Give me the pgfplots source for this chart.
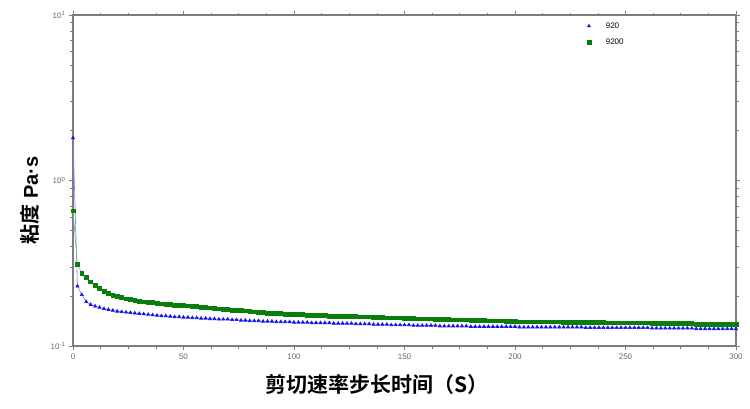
\documentclass[border=0pt]{standalone}
\usepackage{pgfplots}
\pgfplotsset{compat=1.18}
\usepackage{fontspec}
\setmainfont{Liberation Sans}
\newfontfamily\cjk{Noto Sans CJK SC}[BoldFont={Noto Sans CJK SC Bold}]

\definecolor{axgray}{RGB}{125,125,125}
\definecolor{tkgray}{RGB}{105,105,105}
\definecolor{ser1}{RGB}{20,20,235}
\definecolor{ser1l}{RGB}{120,120,255}
\definecolor{ser2}{RGB}{10,125,10}
\definecolor{ser2l}{RGB}{110,190,110}

\begin{document}
\begin{tikzpicture}
  \begin{axis}[
      scale only axis,
      width=663pt, height=331pt,
      ymode=log,
      xmin=0, xmax=300,
      ymin=0.1, ymax=10,
      xtick={0,50,...,300},
      minor x tick num=3,
      ytick={0.1,1,10},
      yticklabels={10\textsuperscript{-1},10\textsuperscript{0},10\textsuperscript{1}},
      tick align=outside,
      major tick length=4pt,
      minor tick length=2.5pt,
      tick style={axgray, line width=0.6pt},
      axis line style={axgray, line width=1.2pt},
      every tick label/.append style={font=\fontsize{8}{9}\selectfont, text=tkgray},
      /pgf/number format/assume math mode=true,
      xlabel={\cjk\bfseries\fontsize{21}{24}\selectfont 剪切速率步长时间（S）},
      xlabel style={at={(axis description cs:0.458,-0.075)}, anchor=north},
      ylabel={\fontsize{20}{24}\selectfont{\cjk\bfseries 粘度} \bfseries Pa·s},
      ylabel style={at={(axis description cs:-0.045,0.44)}, anchor=south},
      legend style={draw=none, fill=none, font=\fontsize{8}{8}\selectfont,
        at={(rel axis cs:0.772,0.99)}, anchor=north west,
        row sep=5pt, inner sep=2pt,
        /tikz/every odd column/.append style={column sep=13pt}},
      legend cell align=left,
    ]
    \addlegendimage{only marks, mark=triangle*, color=ser1, mark size=1.9pt}
    \addlegendentry{920}
    \addlegendimage{only marks, mark=square*, color=ser2, mark size=1.9pt}
    \addlegendentry{9200}

    % 920
    \addplot[forget plot, ser1l, line width=0.6pt, mark=triangle*, mark size=1.8pt,
      mark options={ser1, draw=ser1, fill=ser1}] coordinates {
      (0,1.81)(2,0.230)(4,0.204)(6,0.185)(8,0.178)(10,0.174)(12,0.171)(14,0.168)
      (16,0.166)(18,0.164)(20,0.162)(22,0.161)(24,0.160)(26,0.159)(28,0.158)(30,0.157)
      (32,0.156)(34,0.155)(36,0.154)(38,0.153)(40,0.152)(42,0.152)(44,0.151)(46,0.150)
      (48,0.150)(50,0.149)(52,0.149)(54,0.148)(56,0.148)(58,0.147)(60,0.147)(62,0.146)
      (64,0.146)(66,0.145)(68,0.145)(70,0.145)(72,0.144)(74,0.144)(76,0.143)(78,0.143)
      (80,0.142)(82,0.142)(84,0.142)(86,0.141)(88,0.141)(90,0.141)(92,0.140)(94,0.140)
      (96,0.140)(98,0.140)(100,0.139)(102,0.139)(104,0.139)(106,0.139)(108,0.138)(110,0.138)
      (112,0.138)(114,0.138)(116,0.138)(118,0.137)(120,0.137)(122,0.137)(124,0.137)(126,0.137)
      (128,0.136)(130,0.136)(132,0.136)(134,0.136)(136,0.135)(138,0.135)(140,0.135)(142,0.135)
      (144,0.134)(146,0.134)(148,0.134)(150,0.134)(152,0.134)(154,0.133)(156,0.133)(158,0.133)
      (160,0.133)(162,0.133)(164,0.133)(166,0.132)(168,0.132)(170,0.132)(172,0.132)(174,0.132)
      (176,0.132)(178,0.132)(180,0.131)(182,0.131)(184,0.131)(186,0.131)(188,0.131)(190,0.131)
      (192,0.131)(194,0.131)(196,0.131)(198,0.131)(200,0.131)(202,0.130)(204,0.130)(206,0.130)
      (208,0.130)(210,0.130)(212,0.130)(214,0.130)(216,0.130)(218,0.130)(220,0.130)(222,0.130)
      (224,0.130)(226,0.130)(228,0.130)(230,0.130)(232,0.129)(234,0.129)(236,0.129)(238,0.129)
      (240,0.129)(242,0.129)(244,0.129)(246,0.129)(248,0.129)(250,0.129)(252,0.129)(254,0.129)
      (256,0.129)(258,0.129)(260,0.129)(262,0.128)(264,0.128)(266,0.128)(268,0.128)(270,0.128)
      (272,0.128)(274,0.128)(276,0.128)(278,0.128)(280,0.128)(282,0.127)(284,0.127)(286,0.127)
      (288,0.127)(290,0.127)(292,0.127)(294,0.127)(296,0.127)(298,0.127)(300,0.127)
    };

    % 9200
    \addplot[forget plot, ser2l, line width=0.6pt, mark=square*, mark size=1.9pt,
      mark options={ser2, draw=ser2, fill=ser2}] coordinates {
      (0,0.656)(2,0.310)(4,0.276)(6,0.259)(8,0.244)(10,0.232)(12,0.222)(14,0.214)
      (16,0.208)(18,0.203)(20,0.199)(22,0.196)(24,0.193)(26,0.191)(28,0.189)(30,0.187)
      (32,0.185)(34,0.184)(36,0.183)(38,0.181)(40,0.180)(42,0.179)(44,0.178)(46,0.177)
      (48,0.177)(50,0.176)(52,0.175)(54,0.174)(56,0.173)(58,0.172)(60,0.171)(62,0.170)
      (64,0.169)(66,0.168)(68,0.167)(70,0.166)(72,0.165)(74,0.165)(76,0.164)(78,0.163)
      (80,0.162)(82,0.161)(84,0.160)(86,0.159)(88,0.158)(90,0.158)(92,0.157)(94,0.157)
      (96,0.156)(98,0.156)(100,0.155)(102,0.155)(104,0.155)(106,0.154)(108,0.154)(110,0.153)
      (112,0.153)(114,0.153)(116,0.152)(118,0.152)(120,0.152)(122,0.152)(124,0.151)(126,0.151)
      (128,0.151)(130,0.150)(132,0.150)(134,0.150)(136,0.149)(138,0.149)(140,0.149)(142,0.148)
      (144,0.148)(146,0.148)(148,0.148)(150,0.147)(152,0.147)(154,0.147)(156,0.146)(158,0.146)
      (160,0.146)(162,0.146)(164,0.145)(166,0.145)(168,0.145)(170,0.145)(172,0.144)(174,0.144)
      (176,0.144)(178,0.144)(180,0.143)(182,0.143)(184,0.143)(186,0.143)(188,0.142)(190,0.142)
      (192,0.142)(194,0.142)(196,0.141)(198,0.141)(200,0.141)(202,0.140)(204,0.140)(206,0.140)
      (208,0.140)(210,0.140)(212,0.140)(214,0.140)(216,0.140)(218,0.140)(220,0.140)(222,0.139)
      (224,0.139)(226,0.139)(228,0.139)(230,0.139)(232,0.139)(234,0.139)(236,0.139)(238,0.139)
      (240,0.139)(242,0.138)(244,0.138)(246,0.138)(248,0.138)(250,0.138)(252,0.138)(254,0.138)
      (256,0.138)(258,0.138)(260,0.138)(262,0.137)(264,0.137)(266,0.137)(268,0.137)(270,0.137)
      (272,0.137)(274,0.137)(276,0.137)(278,0.137)(280,0.137)(282,0.136)(284,0.136)(286,0.136)
      (288,0.136)(290,0.136)(292,0.136)(294,0.136)(296,0.136)(298,0.136)(300,0.136)
    };
  \end{axis}
  % page frame with the reference's margins
  \path ([xshift=-73pt,yshift=-62pt]current axis.south west)
    rectangle ([xshift=14pt,yshift=15pt]current axis.north east);
\end{tikzpicture}
\end{document}
